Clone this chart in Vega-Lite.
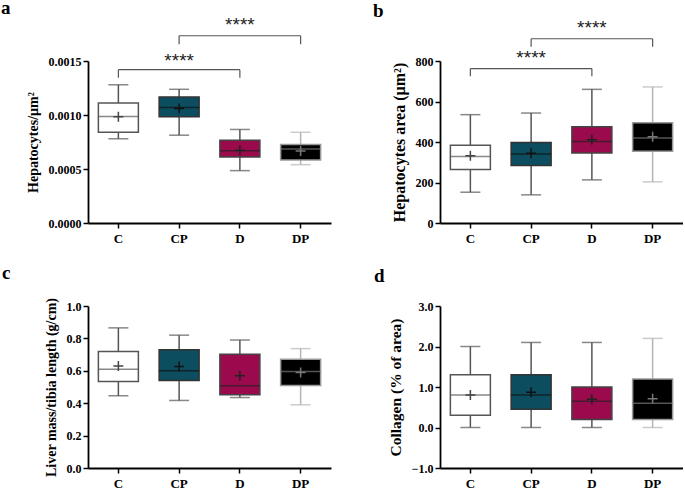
{
  "$schema": "https://vega.github.io/schema/vega-lite/v6.json",
  "autosize": {"type": "pad"},
  "padding": {"left": 1, "top": -2, "right": 0, "bottom": 0},
  "background": "white",
  "config": {
    "view": {"stroke": null},
    "axis": {
      "grid": false, "domainColor": "#000", "domainWidth": 1.8, "tickColor": "#000", "tickWidth": 1.5, "tickSize": 5,
      "labelFont": "Liberation Serif", "labelFontWeight": "bold", "labelFontSize": 12, "labelColor": "#000", "labelOverlap": false,
      "titleFont": "Liberation Serif", "titleFontWeight": "bold", "titleFontSize": 14, "titleColor": "#000"
    },
    "axisX": {"labelAngle": 0, "labelFontSize": 13, "labelPadding": 4, "title": null},
    "axisY": {"labelPadding": 2, "titlePadding": 8, "labelOverlap": false},
    "title": {"font": "Liberation Serif", "fontWeight": "bold", "fontSize": 19, "color": "#000", "anchor": "start", "frame": "group"}
  },
  "datasets": {
    "a": [
      {"g": "C", "lo": 0.00078, "q1": 0.00084, "med": 0.000985, "q3": 0.00111, "hi": 0.00128, "mean": 0.000984},
      {"g": "CP", "lo": 0.000813, "q1": 0.000984, "med": 0.00107, "q3": 0.001166, "hi": 0.001238, "mean": 0.00106},
      {"g": "D", "lo": 0.000485, "q1": 0.00061, "med": 0.000668, "q3": 0.000767, "hi": 0.000866, "mean": 0.000674},
      {"g": "DP", "lo": 0.00054, "q1": 0.000584, "med": 0.000685, "q3": 0.000727, "hi": 0.00084, "mean": 0.000666}
    ],
    "b": [
      {"g": "C", "lo": 152, "q1": 264, "med": 329, "q3": 384, "hi": 535, "mean": 332},
      {"g": "CP", "lo": 139, "q1": 284, "med": 341, "q3": 398, "hi": 543, "mean": 344},
      {"g": "D", "lo": 213, "q1": 346, "med": 403, "q3": 475, "hi": 660, "mean": 411},
      {"g": "DP", "lo": 203, "q1": 354, "med": 420, "q3": 495, "hi": 672, "mean": 426}
    ],
    "c": [
      {"g": "C", "lo": 0.446, "q1": 0.534, "med": 0.61, "q3": 0.719, "hi": 0.865, "mean": 0.63},
      {"g": "CP", "lo": 0.417, "q1": 0.54, "med": 0.6, "q3": 0.73, "hi": 0.82, "mean": 0.626},
      {"g": "D", "lo": 0.435, "q1": 0.452, "med": 0.507, "q3": 0.702, "hi": 0.79, "mean": 0.569},
      {"g": "DP", "lo": 0.39, "q1": 0.509, "med": 0.595, "q3": 0.672, "hi": 0.737, "mean": 0.59}
    ],
    "d": [
      {"g": "C", "lo": 0, "q1": 0.3, "med": 0.8, "q3": 1.3, "hi": 2.0, "mean": 0.8},
      {"g": "CP", "lo": 0, "q1": 0.45, "med": 0.8, "q3": 1.3, "hi": 2.1, "mean": 0.87},
      {"g": "D", "lo": 0, "q1": 0.2, "med": 0.65, "q3": 1.0, "hi": 2.1, "mean": 0.7},
      {"g": "DP", "lo": 0, "q1": 0.2, "med": 0.6, "q3": 1.2, "hi": 2.2, "mean": 0.71}
    ],
    "ba": [
      {"from": "C", "to": "D", "y": 0.00142, "y0": 0.001346, "mid": "CP", "ys": 0.001447, "label": "****"},
      {"from": "CP", "to": "DP", "y": 0.001734, "y0": 0.001654, "mid": "D", "ys": 0.001778, "label": "****"}
    ],
    "bb": [
      {"from": "C", "to": "D", "y": 762.6, "y0": 724.7, "mid": "CP", "ys": 784, "label": "****"},
      {"from": "CP", "to": "DP", "y": 910, "y0": 870.8, "mid": "D", "ys": 934, "label": "****"}
    ]
  },
  "concat": [
    {
      "width": 243, "height": 162,
      "title": {"text": "a", "dx": -87, "offset": -2},
      "data": {"name": "a"},
      "encoding": {"x": {"field": "g", "type": "nominal", "sort": ["C", "CP", "D", "DP"], "scale": {"paddingInner": 0, "paddingOuter": 0}}},
      "layer": [
        {"mark": {"type": "rule", "strokeWidth": 1.5},
         "encoding": {"y": {"field": "lo", "type": "quantitative", "scale": {"domain": [0, 0.0015], "nice": false}, "axis": {"title": "Hepatocytes/µm²", "values": [0, 0.0005, 0.001, 0.0015], "format": ".4f", "labelOverlap": false}}, "y2": {"field": "hi"},
           "color": {"field": "g", "type": "nominal", "scale": {"domain": ["C", "CP", "D", "DP"], "range": ["#555555", "#555555", "#555555", "#b5b5b5"]}, "legend": null}}},
        {"transform": [{"fold": ["lo", "hi"], "as": ["k", "v"]}], "mark": {"type": "tick", "size": 20, "thickness": 1.5},
         "encoding": {"y": {"field": "v", "type": "quantitative"},
           "color": {"field": "g", "type": "nominal", "scale": {"domain": ["C", "CP", "D", "DP"], "range": ["#555555", "#555555", "#555555", "#b5b5b5"]}, "legend": null}}},
        {"mark": {"type": "bar", "size": 40, "strokeWidth": 1.5},
         "encoding": {"y": {"field": "q1", "type": "quantitative"}, "y2": {"field": "q3"},
           "fill": {"field": "g", "type": "nominal", "scale": {"domain": ["C", "CP", "D", "DP"], "range": ["#ffffff", "#0c4e60", "#9b0a4d", "#000000"]}, "legend": null},
           "stroke": {"field": "g", "type": "nominal", "scale": {"domain": ["C", "CP", "D", "DP"], "range": ["#555555", "#333333", "#444444", "#999999"]}, "legend": null}}},
        {"mark": {"type": "tick", "size": 40, "thickness": 1.5},
         "encoding": {"y": {"field": "med", "type": "quantitative"},
           "color": {"field": "g", "type": "nominal", "scale": {"domain": ["C", "CP", "D", "DP"], "range": ["#555555", "#111111", "#222222", "#777777"]}, "legend": null}}},
        {"mark": {"type": "point", "shape": "M-1,0L1,0M0,-1L0,1", "size": 100, "filled": false, "strokeWidth": 1.5, "opacity": 1},
         "encoding": {"y": {"field": "mean", "type": "quantitative"},
           "color": {"field": "g", "type": "nominal", "scale": {"domain": ["C", "CP", "D", "DP"], "range": ["#444444", "#111111", "#222222", "#777777"]}, "legend": null}}},
        {"data": {"name": "ba"}, "mark": {"type": "rule", "strokeWidth": 1.2, "color": "#555555"},
         "encoding": {"x": {"field": "from", "type": "nominal", "sort": ["C", "CP", "D", "DP"]}, "x2": {"field": "to"}, "y": {"field": "y", "type": "quantitative"}}},
        {"data": {"name": "ba"}, "transform": [{"fold": ["from", "to"], "as": ["k", "cat"]}], "mark": {"type": "rule", "strokeWidth": 1.2, "color": "#555555"},
         "encoding": {"x": {"field": "cat", "type": "nominal", "sort": ["C", "CP", "D", "DP"]}, "y": {"field": "y0", "type": "quantitative"}, "y2": {"field": "y"}}},
        {"data": {"name": "ba"}, "mark": {"type": "text", "font": "Liberation Sans", "fontSize": 19, "color": "#222222", "baseline": "alphabetic"},
         "encoding": {"x": {"field": "mid", "type": "nominal", "sort": ["C", "CP", "D", "DP"]}, "y": {"field": "ys", "type": "quantitative"}, "text": {"field": "label"}}}
      ],
      "resolve": {"scale": {"color": "independent", "fill": "independent", "stroke": "independent"}}
    },
    {
      "width": 243, "height": 162,
      "title": {"text": "b", "dx": -67, "offset": -2},
      "data": {"name": "b"},
      "encoding": {"x": {"field": "g", "type": "nominal", "sort": ["C", "CP", "D", "DP"], "scale": {"paddingInner": 0, "paddingOuter": 0}}},
      "layer": [
        {"mark": {"type": "rule", "strokeWidth": 1.5},
         "encoding": {"y": {"field": "lo", "type": "quantitative", "scale": {"domain": [0, 800], "nice": false}, "axis": {"title": "Hepatocytes area (µm²)", "titleFontSize": 16, "values": [0, 200, 400, 600, 800], "format": "d", "labelOverlap": false}}, "y2": {"field": "hi"},
           "color": {"field": "g", "type": "nominal", "scale": {"domain": ["C", "CP", "D", "DP"], "range": ["#555555", "#555555", "#555555", "#b5b5b5"]}, "legend": null}}},
        {"transform": [{"fold": ["lo", "hi"], "as": ["k", "v"]}], "mark": {"type": "tick", "size": 20, "thickness": 1.5},
         "encoding": {"y": {"field": "v", "type": "quantitative"},
           "color": {"field": "g", "type": "nominal", "scale": {"domain": ["C", "CP", "D", "DP"], "range": ["#555555", "#555555", "#555555", "#b5b5b5"]}, "legend": null}}},
        {"mark": {"type": "bar", "size": 40, "strokeWidth": 1.5},
         "encoding": {"y": {"field": "q1", "type": "quantitative"}, "y2": {"field": "q3"},
           "fill": {"field": "g", "type": "nominal", "scale": {"domain": ["C", "CP", "D", "DP"], "range": ["#ffffff", "#0c4e60", "#9b0a4d", "#000000"]}, "legend": null},
           "stroke": {"field": "g", "type": "nominal", "scale": {"domain": ["C", "CP", "D", "DP"], "range": ["#555555", "#333333", "#444444", "#999999"]}, "legend": null}}},
        {"mark": {"type": "tick", "size": 40, "thickness": 1.5},
         "encoding": {"y": {"field": "med", "type": "quantitative"},
           "color": {"field": "g", "type": "nominal", "scale": {"domain": ["C", "CP", "D", "DP"], "range": ["#555555", "#111111", "#222222", "#777777"]}, "legend": null}}},
        {"mark": {"type": "point", "shape": "M-1,0L1,0M0,-1L0,1", "size": 100, "filled": false, "strokeWidth": 1.5, "opacity": 1},
         "encoding": {"y": {"field": "mean", "type": "quantitative"},
           "color": {"field": "g", "type": "nominal", "scale": {"domain": ["C", "CP", "D", "DP"], "range": ["#444444", "#111111", "#222222", "#777777"]}, "legend": null}}},
        {"data": {"name": "bb"}, "mark": {"type": "rule", "strokeWidth": 1.2, "color": "#555555"},
         "encoding": {"x": {"field": "from", "type": "nominal", "sort": ["C", "CP", "D", "DP"]}, "x2": {"field": "to"}, "y": {"field": "y", "type": "quantitative"}}},
        {"data": {"name": "bb"}, "transform": [{"fold": ["from", "to"], "as": ["k", "cat"]}], "mark": {"type": "rule", "strokeWidth": 1.2, "color": "#555555"},
         "encoding": {"x": {"field": "cat", "type": "nominal", "sort": ["C", "CP", "D", "DP"]}, "y": {"field": "y0", "type": "quantitative"}, "y2": {"field": "y"}}},
        {"data": {"name": "bb"}, "mark": {"type": "text", "font": "Liberation Sans", "fontSize": 19, "color": "#222222", "baseline": "alphabetic"},
         "encoding": {"x": {"field": "mid", "type": "nominal", "sort": ["C", "CP", "D", "DP"]}, "y": {"field": "ys", "type": "quantitative"}, "text": {"field": "label"}}}
      ],
      "resolve": {"scale": {"color": "independent", "fill": "independent", "stroke": "independent"}}
    },
    {
      "width": 243, "height": 162,
      "title": {"text": "c", "dx": -86, "offset": 14},
      "data": {"name": "c"},
      "encoding": {"x": {"field": "g", "type": "nominal", "sort": ["C", "CP", "D", "DP"], "scale": {"paddingInner": 0, "paddingOuter": 0}}},
      "layer": [
        {"mark": {"type": "rule", "strokeWidth": 1.5},
         "encoding": {"y": {"field": "lo", "type": "quantitative", "scale": {"domain": [0, 1], "nice": false}, "axis": {"title": "Liver mass/tibia length (g/cm)", "tickCount": 5, "format": ".1f", "labelOverlap": false, "labelBound": false}}, "y2": {"field": "hi"},
           "color": {"field": "g", "type": "nominal", "scale": {"domain": ["C", "CP", "D", "DP"], "range": ["#555555", "#555555", "#555555", "#b5b5b5"]}, "legend": null}}},
        {"transform": [{"fold": ["lo", "hi"], "as": ["k", "v"]}], "mark": {"type": "tick", "size": 20, "thickness": 1.5},
         "encoding": {"y": {"field": "v", "type": "quantitative"},
           "color": {"field": "g", "type": "nominal", "scale": {"domain": ["C", "CP", "D", "DP"], "range": ["#555555", "#555555", "#555555", "#b5b5b5"]}, "legend": null}}},
        {"mark": {"type": "bar", "size": 40, "strokeWidth": 1.5},
         "encoding": {"y": {"field": "q1", "type": "quantitative"}, "y2": {"field": "q3"},
           "fill": {"field": "g", "type": "nominal", "scale": {"domain": ["C", "CP", "D", "DP"], "range": ["#ffffff", "#0c4e60", "#9b0a4d", "#000000"]}, "legend": null},
           "stroke": {"field": "g", "type": "nominal", "scale": {"domain": ["C", "CP", "D", "DP"], "range": ["#555555", "#333333", "#444444", "#999999"]}, "legend": null}}},
        {"mark": {"type": "tick", "size": 40, "thickness": 1.5},
         "encoding": {"y": {"field": "med", "type": "quantitative"},
           "color": {"field": "g", "type": "nominal", "scale": {"domain": ["C", "CP", "D", "DP"], "range": ["#555555", "#111111", "#222222", "#777777"]}, "legend": null}}},
        {"mark": {"type": "point", "shape": "M-1,0L1,0M0,-1L0,1", "size": 100, "filled": false, "strokeWidth": 1.5, "opacity": 1},
         "encoding": {"y": {"field": "mean", "type": "quantitative"},
           "color": {"field": "g", "type": "nominal", "scale": {"domain": ["C", "CP", "D", "DP"], "range": ["#444444", "#111111", "#222222", "#777777"]}, "legend": null}}}
      ],
      "resolve": {"scale": {"color": "independent", "fill": "independent", "stroke": "independent"}}
    },
    {
      "width": 243, "height": 162,
      "title": {"text": "d", "dx": -66, "offset": 14},
      "data": {"name": "d"},
      "encoding": {"x": {"field": "g", "type": "nominal", "sort": ["C", "CP", "D", "DP"], "scale": {"paddingInner": 0, "paddingOuter": 0}}},
      "layer": [
        {"mark": {"type": "rule", "strokeWidth": 1.5},
         "encoding": {"y": {"field": "lo", "type": "quantitative", "scale": {"domain": [-1, 3], "nice": false, "zero": false}, "axis": {"title": "Collagen (% of area)", "titleFontSize": 15.5, "values": [-1, 0, 1, 2, 3], "format": ".1f", "labelOverlap": false}}, "y2": {"field": "hi"},
           "color": {"field": "g", "type": "nominal", "scale": {"domain": ["C", "CP", "D", "DP"], "range": ["#555555", "#555555", "#555555", "#b5b5b5"]}, "legend": null}}},
        {"transform": [{"fold": ["lo", "hi"], "as": ["k", "v"]}], "mark": {"type": "tick", "size": 20, "thickness": 1.5},
         "encoding": {"y": {"field": "v", "type": "quantitative"},
           "color": {"field": "g", "type": "nominal", "scale": {"domain": ["C", "CP", "D", "DP"], "range": ["#555555", "#555555", "#555555", "#b5b5b5"]}, "legend": null}}},
        {"mark": {"type": "bar", "size": 40, "strokeWidth": 1.5},
         "encoding": {"y": {"field": "q1", "type": "quantitative"}, "y2": {"field": "q3"},
           "fill": {"field": "g", "type": "nominal", "scale": {"domain": ["C", "CP", "D", "DP"], "range": ["#ffffff", "#0c4e60", "#9b0a4d", "#000000"]}, "legend": null},
           "stroke": {"field": "g", "type": "nominal", "scale": {"domain": ["C", "CP", "D", "DP"], "range": ["#555555", "#333333", "#444444", "#999999"]}, "legend": null}}},
        {"mark": {"type": "tick", "size": 40, "thickness": 1.5},
         "encoding": {"y": {"field": "med", "type": "quantitative"},
           "color": {"field": "g", "type": "nominal", "scale": {"domain": ["C", "CP", "D", "DP"], "range": ["#555555", "#111111", "#222222", "#777777"]}, "legend": null}}},
        {"mark": {"type": "point", "shape": "M-1,0L1,0M0,-1L0,1", "size": 100, "filled": false, "strokeWidth": 1.5, "opacity": 1},
         "encoding": {"y": {"field": "mean", "type": "quantitative"},
           "color": {"field": "g", "type": "nominal", "scale": {"domain": ["C", "CP", "D", "DP"], "range": ["#444444", "#111111", "#222222", "#777777"]}, "legend": null}}}
      ],
      "resolve": {"scale": {"color": "independent", "fill": "independent", "stroke": "independent"}}
    }
  ],
  "columns": 2,
  "spacing": {"row": 83, "column": 109},
  "bounds": "flush"
}
